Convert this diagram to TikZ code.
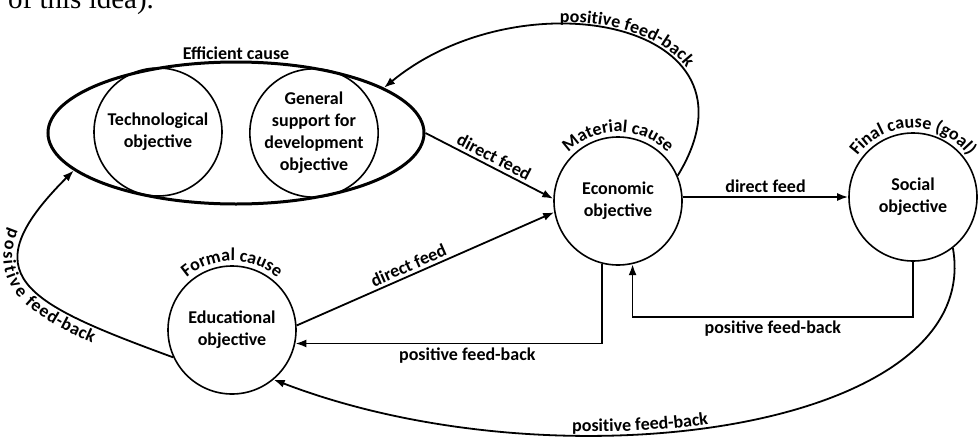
\documentclass[tikz,border=0pt]{standalone}
\usepackage{fontspec}
\setmainfont{Carlito}
\newfontfamily\pageserif{Liberation Serif}
\usepackage{tikz}
\usetikzlibrary{arrows.meta,shapes.geometric,decorations.text,positioning,calc}
\newcommand{\labfont}{\bfseries\fontsize{18}{22}\selectfont}

\begin{document}
\begin{tikzpicture}[x=1pt,y=1pt,>={Latex[length=11pt,width=8pt]},
                    main node/.style={circle,draw,line width=1.6pt,minimum size=128pt,inner sep=0pt,align=center,font=\labfont},
                    alt node/.style={ellipse,draw,line width=3pt,minimum width=376pt,minimum height=142pt,inner sep=0pt},
                    link/.style={->,line width=1.8pt,every node/.style={font=\labfont,inner sep=3pt}},
                    arc label/.style={decorate,decoration={text along path,text align=center,text={|\labfont|#1}}}]
  \useasboundingbox (0,0) rectangle (979,-442);

  % cut line of the page above
  \node[anchor=base west,inner sep=0pt,font=\pageserif\fontsize{29}{29}\selectfont] (0) at (8,-8) {of this idea).};

  \node[alt node] (1) at (236,-133) {};
  \node[main node] (2) [shift={(-78,1)}] at (1) {Technological\\objective};
  \node[main node] (3) [shift={(78,0)}] at (1) {General\\support for\\development\\objective};
  \node[main node] (4) at (618,-201) {Economic\\objective};
  \node[main node] (5) at (913,-197) {Social\\objective};
  \node[main node] (6) at (232,-330) {Educational\\objective};

  \node[font=\labfont,inner sep=0pt,above=1pt of 1] (7) {Efficient cause};
  \path[arc label={Material cause}] (4.center) ++(148:69) arc[start angle=148,end angle=32,radius=69];
  \path[arc label={Final cause (goal)}] (5.center) ++(150:69) arc[start angle=150,end angle=30,radius=69];
  \path[arc label={Formal cause}] (6.center) ++(140:69) arc[start angle=140,end angle=40,radius=69];

  % direct feeds
  \draw[link] (1.east) -- node[midway,above,sloped] {direct feed} (4.178);
  \draw[link] (6.4) -- node[pos=0.45,above,sloped] {direct feed} (4.190);
  \draw[link] (4.east |- 5.west) -- node[above] {direct feed} (5.west);

  % feed-backs
  \draw[link] (4.256) |- node[pos=0.72,below] {positive feed-back} (6.-12);
  \draw[link] (5.south) -- ++(0,-55) -| node[pos=0.25,below] {positive feed-back} (4.283);
  \draw[link,postaction={decorate,decoration={text along path,reverse path,text={|\labfont|positive feed-back},text align={left indent=190pt},raise=3pt}}]
    (4.23) .. controls +(95,155) and +(137,113) .. (1.17);
  \draw[link,postaction={decorate,decoration={text along path,reverse path,text={|\labfont|positive feed-back},text align={left indent=305pt},raise=3pt}}]
    (5.-52) .. controls +(32,-182) and +(286,-110) .. (6.-50);
  \draw[link,postaction={decorate,decoration={text along path,reverse path,text={|\labfont|positive feed-back},text align={left indent=80pt},raise=-16pt}}]
    (6.205) .. controls +(-150,55) and +(-105,-105) .. (1.193);
\end{tikzpicture}
\end{document}
